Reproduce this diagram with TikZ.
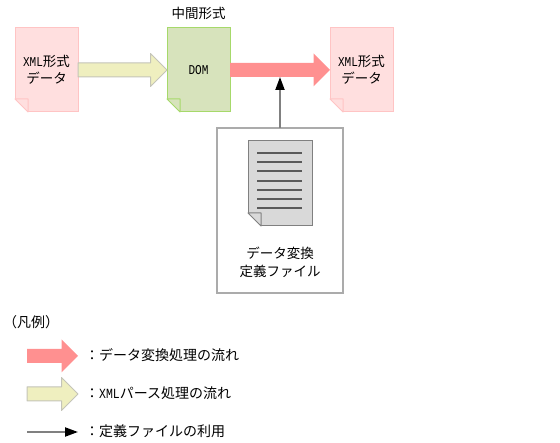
\documentclass[tikz,border=0pt]{standalone}
\usepackage{xcolor}
\usepackage{fontspec}
\setmainfont{Noto Sans CJK JP}[Scale=1]
\newfontfamily\hankaku{Liberation Mono}[FakeStretch=0.82]
\usetikzlibrary{arrows.meta,positioning,calc}
\definecolor{pinkfill}{HTML}{FFDFDF}
\definecolor{pinkline}{HTML}{FFC4C4}
\definecolor{greenfill}{HTML}{D7E3BC}
\definecolor{greenline}{HTML}{A6D96A}
\definecolor{creamfill}{HTML}{EFEFBF}
\definecolor{creamline}{HTML}{C4C4B8}
\definecolor{redflow}{HTML}{FF9090}
\definecolor{sheetfill}{HTML}{D9D9D9}
\definecolor{greyline}{HTML}{808080}
\definecolor{boxline}{HTML}{ABABAB}
% corner of a sheet: #1 node, #2 line, #3 fill
\newcommand{\foldcorner}[3]{
  \fill[white] ($(#1.south west)+(-1.5pt,-1.5pt)$) -- ++(14.5pt,0) -- ++(0,1.5pt) -- ++(-13pt,13pt) -- ++(-1.5pt,0) -- cycle;
  \draw[#2,fill=#3,line width=1pt,line join=round] ($(#1.south west)+(0,13pt)$) -- ++(13pt,0) -- ++(0,-13pt) -- cycle;
}
% block arrow: #1 style, #2 from, #3 to
\newcommand{\blockarrow}[3]{
  \draw[#1] let \p1=(#2),\p2=(#3) in
    (\x1,\y1+7pt) -- (\x2-16.5pt,\y1+7pt) -- (\x2-16.5pt,\y1+16.5pt) -- (\x2,\y1)
    -- (\x2-16.5pt,\y1-16.5pt) -- (\x2-16.5pt,\y1-7pt) -- (\x1,\y1-7pt) -- cycle;
}
\begin{document}
\begin{tikzpicture}[
  x=1pt,y=-1pt,
  sheet/.style={draw,line width=1pt,outer sep=0pt,inner sep=0pt,align=center,minimum width=63pt,minimum height=84pt,font=\fontsize{13.5}{17}\selectfont},
  pinksheet/.style={sheet,draw=pinkline,fill=pinkfill},
  greensheet/.style={sheet,draw=greenline,fill=greenfill},
  greysheet/.style={sheet,draw=greyline,fill=sheetfill,minimum width=64pt,minimum height=85pt},
  defbox/.style={draw=boxline,line width=2.4pt,outer sep=0pt,fill=white,minimum width=126pt,minimum height=165pt},
  label/.style={inner sep=0pt,font=\fontsize{13.5}{18}\selectfont,align=center},
  legend/.style={inner sep=0pt,anchor=west,font=\fontsize{14}{18}\selectfont},
  redarr/.style={fill=redflow,draw=none},
  creamarr/.style={fill=creamfill,draw=creamline,line width=1pt,line join=round},
  rule/.style={greyline!70!black,line width=1.3pt},
  arr/.style={-{Triangle[length=13pt,width=9pt,black]},greyline,line width=2pt}
]
\useasboundingbox (0,0) rectangle (560,443);
\node[pinksheet] (src) at (46.5,70) {{\hankaku XML}形式\\データ};
\node[greensheet,right=89pt of src] (dom) {{\hankaku DOM}};
\node[pinksheet,right=100pt of dom] (dst) {{\hankaku XML}形式\\データ};
\node[label,above=8pt of dom] (mid) {中間形式};
\foldcorner{src}{pinkline}{pinkfill}
\foldcorner{dom}{greenline}{greenfill}
\foldcorner{dst}{pinkline}{pinkfill}
\blockarrow{creamarr}{src.east}{dom.west}
\blockarrow{redarr}{dom.east}{dst.west}
\node[defbox] (def) at (280,210.5) {};
\node[greysheet,below=13pt of def.north] (file) {};
\foldcorner{file}{greyline}{sheetfill}
\foreach \y in {12,21,30,40,49,58,67} \draw[rule] ($(file.north west)+(9pt,-\y pt)$) -- ($(file.north east)+(-10pt,-\y pt)$);
\node[label,below=21pt of file] (deflabel) {データ変換\\定義ファイル};
\coordinate (joint) at (def.north |- 0,77);
\draw[arr] (def.north) -- (joint);
% legend
\node[legend] (hanrei) at (3,322) {（凡例）};
\coordinate (keya) at (27,356); \coordinate (keyb) at (78,356);
\blockarrow{redarr}{keya}{keyb}
\node[legend] (keyred) at (85,355) {：データ変換処理の流れ};
\coordinate (keyc) at (27,394); \coordinate (keyd) at (78,394);
\blockarrow{creamarr}{keyc}{keyd}
\node[legend] (keycream) at (85,393) {：{\hankaku XML}パース処理の流れ};
\coordinate (keye) at (27,432); \coordinate (keyf) at (78,432);
\draw[arr] (keye) -- (keyf);
\node[legend] (keyuse) at (85,431) {：定義ファイルの利用};
\end{tikzpicture}
\end{document}
